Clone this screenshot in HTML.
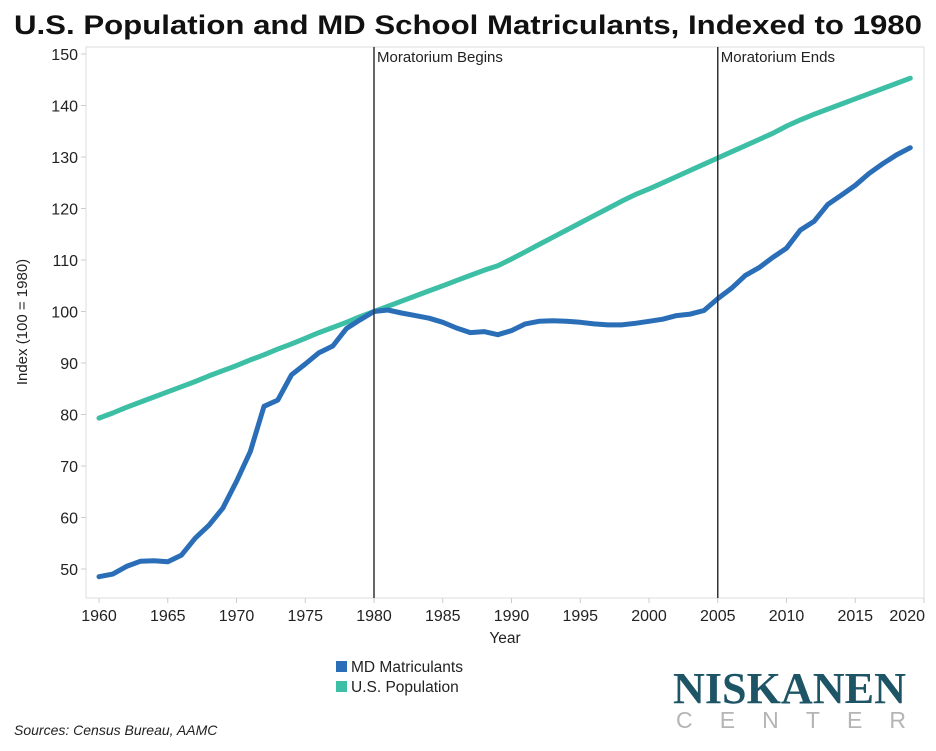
<!DOCTYPE html>
<html><head><meta charset="utf-8"><style>
body{margin:0;background:#fff;width:936px;height:746px;overflow:hidden;font-family:"Liberation Sans",sans-serif}
</style></head><body>
<svg id="chart" width="936" height="746" xmlns="http://www.w3.org/2000/svg" font-family="Liberation Sans, sans-serif">
<text x="14" y="34" font-size="27" font-weight="bold" fill="#111" textLength="908" lengthAdjust="spacingAndGlyphs">U.S. Population and MD School Matriculants, Indexed to 1980</text>
<rect x="86" y="47" width="838" height="551" fill="none" stroke="#ddd" stroke-width="1"/>
<g id="yaxis"></g>
<g id="xaxis"></g>
<text transform="translate(27,322) rotate(-90)" text-anchor="middle" font-size="15" fill="#222">Index (100 = 1980)</text>
<text x="505" y="643" text-anchor="middle" font-size="15.5" fill="#222">Year</text>
<g id="marks"></g>
<g id="events"></g>
<g>
<rect x="336" y="661" width="11" height="11" fill="#2a6eb8"/>
<text x="351" y="672" font-size="15.5" fill="#222">MD Matriculants</text>
<rect x="336" y="681" width="11" height="11" fill="#3dbfa6"/>
<text x="351" y="692" font-size="15.5" fill="#222">U.S. Population</text>
</g>
<text x="14" y="735" font-size="14" font-style="italic" fill="#222">Sources: Census Bureau, AAMC</text>
<g>
<text x="673" y="703" font-size="44" font-weight="bold" font-family="Liberation Serif, serif" fill="#1e5566" textLength="233" lengthAdjust="spacingAndGlyphs">NISKANEN</text>
<text x="676" y="728" font-size="23" fill="#b5b5b5" textLength="230" lengthAdjust="spacing">CENTER</text>
</g>
</svg>
<script>
const years=[];for(let y=1960;y<=2019;y++)years.push(y);
const mdValues=[48.5,49,50.5,51.5,51.6,51.4,52.7,56,58.5,61.8,67,72.8,81.6,82.8,87.7,89.8,92,93.3,96.7,98.4,100,100.3,99.7,99.2,98.7,97.9,96.8,95.9,96.1,95.5,96.3,97.6,98.1,98.2,98.1,97.9,97.6,97.4,97.4,97.7,98.1,98.5,99.2,99.5,100.2,102.5,104.5,107,108.5,110.5,112.3,115.8,117.5,120.8,122.6,124.5,126.8,128.7,130.4,131.8];
const popValues=[79.3,80.3,81.4,82.4,83.4,84.4,85.4,86.4,87.5,88.5,89.5,90.6,91.6,92.7,93.7,94.8,95.9,96.9,97.9,99,100,101,102,103,104,105,106,107,108,108.9,110.2,111.6,113,114.4,115.8,117.2,118.6,120,121.4,122.7,123.8,125,126.2,127.4,128.6,129.8,131,132.2,133.4,134.6,136,137.2,138.3,139.3,140.3,141.3,142.3,143.3,144.3,145.3];
const yTicks=[50,60,70,80,90,100,110,120,130,140,150];
const xTicks=[1960,1965,1970,1975,1980,1985,1990,1995,2000,2005,2010,2015,2020];
const eventYears=[1980,2005];
const eventLabels=["Moratorium Begins","Moratorium Ends"];
const NS="http://www.w3.org/2000/svg";
const X=v=>99+(v-1960)*13.75;
const Y=v=>569-(v-50)*5.15;
function mk(t,a,p){const e=document.createElementNS(NS,t);for(const k in a)e.setAttribute(k,a[k]);p.appendChild(e);return e;}
const ya=document.getElementById('yaxis'),xa=document.getElementById('xaxis'),mk_=document.getElementById('marks'),ev=document.getElementById('events');
yTicks.forEach(t=>{
 const l=mk('line',{x1:81,x2:86,y1:Y(t),y2:Y(t),stroke:'#ccc'},ya);
 
 
 const tx=mk('text',{x:78,y:Y(t)+6,'text-anchor':'end','font-size':16,fill:'#222'},ya);tx.textContent=t;
 
 
});
xTicks.forEach((t,i)=>{
 const last=i===xTicks.length-1;
 const l=mk('line',{x1:X(t),x2:X(t),y1:598,y2:603,stroke:'#ccc'},xa);
 
 
 const tx=mk('text',{x:last?X(t)+1:X(t),y:621,'text-anchor':last?'end':'middle','font-size':16,fill:'#222'},xa);tx.textContent=t;
 
 
});
eventYears.forEach((e,i)=>{
 const l=mk('line',{x1:X(e),x2:X(e),y1:47,y2:598,stroke:'#333','stroke-width':1.5},ev);
 
 
 const tx=mk('text',{x:X(e)+3,y:62,'font-size':15,fill:'#222'},ev);tx.textContent=eventLabels[i];
 
 
});
function line(vals,color,name){
 const d=vals.map((v,i)=>(i?'L':'M')+X(years[i]).toFixed(1)+','+Y(v).toFixed(1)).join('');
 const p=mk('path',{d:d,fill:'none',stroke:color,'stroke-width':5,'stroke-linejoin':'round','stroke-linecap':'round'},mk_);
 
 
}
line(popValues,'#3dbfa6','us-population-line');
line(mdValues,'#2a6eb8','md-matriculants-line');
</script>
</body></html>
